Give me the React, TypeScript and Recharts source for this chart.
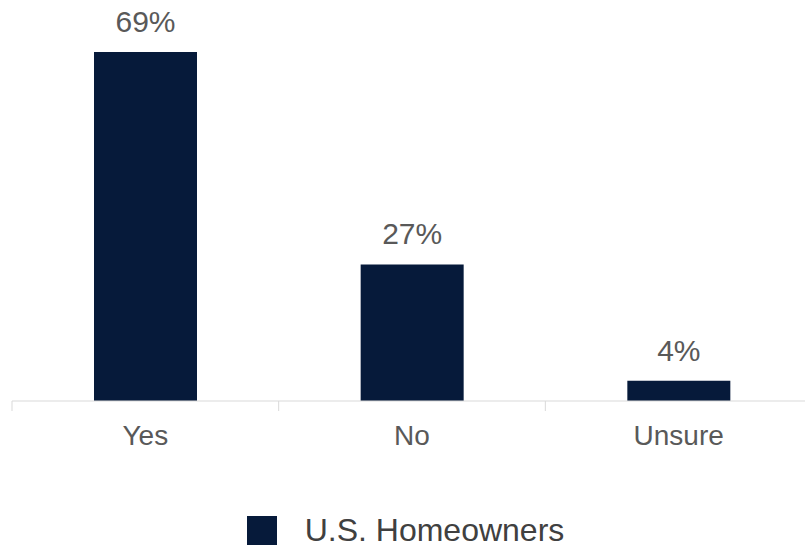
import { BarChart, Bar, XAxis, YAxis, LabelList, Legend } from 'recharts';

const answers = ['Yes', 'No', 'Unsure'];
const homeowners = [69, 27, 4];

const data = answers.map((a, i) => ({ name: a, value: homeowners[i] }));

const font = 'Liberation Sans, Arial, sans-serif';

// tick label in the middle of the band, tick marks on the band edges
function CategoryTick(props: any) {
    const { x, y, payload, width, visibleTicksCount, index } = props;
    const half = width / visibleTicksCount / 2;
    const top = y - 24;
    return (
        <g>
            <line x1={x - half} x2={x - half} y1={top} y2={top + 10} stroke="#d9d9d9" />
            {index === visibleTicksCount - 1 && (
                <line x1={x + half} x2={x + half} y1={top} y2={top + 10} stroke="#d9d9d9" />
            )}
            <text x={x} y={y} dy="0.71em" textAnchor="middle" fill="#595959" fontSize={28} fontFamily={font}>
                {payload.value}
            </text>
        </g>
    );
}

function LegendBox() {
    return (
        <div style={{ display: 'flex', alignItems: 'center', justifyContent: 'center', fontFamily: font, height: 34 }}>
            <span style={{ width: 30, height: 29, background: '#061a3a', display: 'inline-block', marginRight: 28, marginLeft: 6 }} />
            <span style={{ fontSize: 32, color: '#404040', lineHeight: '34px' }}>U.S. Homeowners</span>
        </div>
    );
}

export default function App() {
    return (
        <div style={{ position: 'absolute', left: 0, top: 0, width: 805, height: 549, overflow: 'hidden', background: '#fff' }}>
            <BarChart
                width={812}
                height={549}
                data={data}
                margin={{ top: 52, right: 0, left: 12, bottom: 0 }}
                barCategoryGap={82}
            >
                <XAxis
                    dataKey="name"
                    height={148}
                    stroke="#d9d9d9"
                    tickLine={false}
                    tickSize={10}
                    tickMargin={14}
                    interval={0}
                    tick={<CategoryTick />}
                />
                <YAxis hide domain={[0, 69]} />
                <Legend
                    layout="horizontal"
                    verticalAlign="middle"
                    align="center"
                    content={() => <LegendBox />}
                    wrapperStyle={{ position: 'absolute', top: 513, left: 0, width: 805, height: 34 }}
                />
                <Bar dataKey="value" fill="#061a3a" isAnimationActive={false}>
                    <LabelList
                        dataKey="value"
                        position="top"
                        offset={20}
                        formatter={(v: any) => `${v}%`}
                        style={{ fill: '#595959', fontSize: 30, fontFamily: font }}
                    />
                </Bar>
            </BarChart>
        </div>
    );
}
